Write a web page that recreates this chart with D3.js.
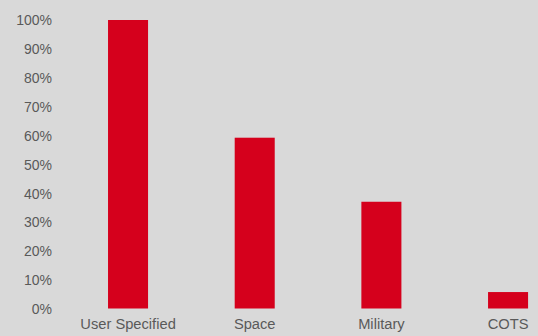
<!doctype html>
<html lang="en">
<head>
  <meta charset="utf-8">
  <title>Share by category</title>
  <style>
  html, body {
    margin: 0;
    padding: 0;
    background: #d9d9d9;
  }
  svg {
    display: block;
    font-family: "Liberation Sans", Arial, sans-serif;
  }
  .tick text {
    fill: #595959;
    font-size: 14px;
  }
  .x-axis .tick text {
    font-size: 14.7px;
  }
  </style>
</head>
<body>
  <div id="chart"></div>
  <script src="https://cdn.jsdelivr.net/npm/d3@7"></script>
  <script>
    var categories = ["User Specified", "Space", "Military", "COTS"];
    var shares = [100, 59.2, 37, 5.7];
    var yTicks = [0, 10, 20, 30, 40, 50, 60, 70, 80, 90, 100];

    (function() {
      var width = 538,
          height = 336;

      var svg = d3.select("#chart")
          .append("svg")
          .attr("width", width)
          .attr("height", height);

      // plot area runs a bit past the right edge, like the original
      var x = d3.scaleBand()
          .domain(categories)
          .range([64.7, 571.4])
          .paddingInner(0.684)
          .paddingOuter(0.342);

      var y = d3.scaleLinear()
          .domain([0, 100])
          .range([308.5, 20]);

      var yAxis = svg.append("g")
          .attr("transform", "translate(52,0)")
          .call(d3.axisLeft(y).tickValues(yTicks).tickSize(0).tickPadding(0)
                .tickFormat(function(d) { return d + "%"; }));
      yAxis.select(".domain").remove();
      yAxis.selectAll("text").attr("dy", "0.35em");

      var xAxis = svg.append("g")
          .attr("class", "x-axis")
          .attr("transform", "translate(0,318)")
          .call(d3.axisBottom(x).tickSize(0).tickPadding(0));
      xAxis.select(".domain").remove();
      xAxis.selectAll("text").attr("dy", "0.75em");

      svg.append("g")
        .selectAll("rect")
        .data(shares)
        .enter()
        .append("rect")
        .attr("x", function(d, i) { return x(categories[i]); })
        .attr("y", function(d) { return y(d); })
        .attr("width", x.bandwidth())
        .attr("height", function(d) { return y(0) - y(d); })
        .attr("fill", "#d5001c");
    })();
  </script>
</body>
</html>
